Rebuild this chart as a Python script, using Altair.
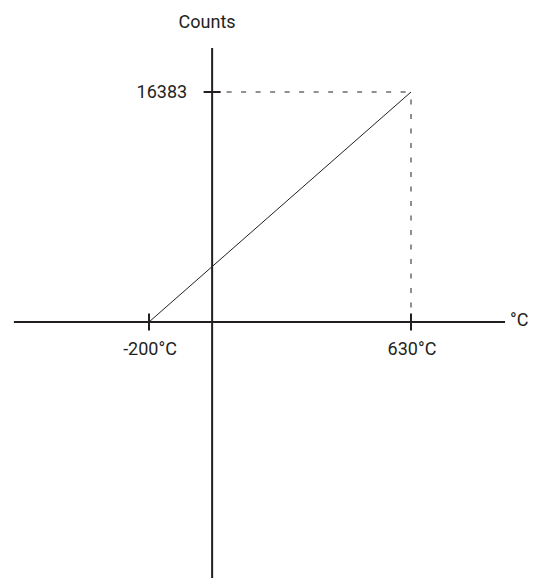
import altair as alt
import pandas as pd

# Data
x_points = [-200, 630]          # °C
y_points = [0, 16383]           # counts
x_axis_extent = [-628, 928]     # drawn horizontal axis extent (°C)
y_axis_extent = [-18650, 19517] # drawn vertical axis extent (counts)
x_tick_values = [-200, 630]
x_tick_labels = ["-200°C", "630°C"]
y_tick_values = [16383]
y_tick_labels = ["16383"]
x_unit = "°C"
y_title = "Counts"

FONT = "Roboto"
FS = 18
INK = "#231f20"

W, H = 522, 570
# page px -> data: x=-200 at plot 141, x=630 at plot 403; y=0 at plot 314, y=16383 at plot 84
kx = 830 / 262
ky = 16383 / 230
xs = alt.Scale(domain=[-200 - 141 * kx, 630 + (W - 403) * kx], nice=False, zero=False)
ys = alt.Scale(domain=[-(H - 314) * ky, 16383 + 84 * ky], nice=False, zero=False)

def X(field="x"):
    return alt.X(f"{field}:Q", scale=xs, axis=None)

def Y(field="y"):
    return alt.Y(f"{field}:Q", scale=ys, axis=None)

# axis lines
xaxis_df = pd.DataFrame({"x": [x_axis_extent[0]], "x2": [x_axis_extent[1]], "y": [0]})
yaxis_df = pd.DataFrame({"x": [0], "y": [y_axis_extent[0]], "y2": [y_axis_extent[1]]})

xaxis = alt.Chart(xaxis_df).mark_rule(color=INK, strokeWidth=2).encode(
    x=X(), x2="x2:Q", y=Y())
yaxis = alt.Chart(yaxis_df).mark_rule(color=INK, strokeWidth=2).encode(
    x=X(), y=Y(), y2="y2:Q")

# ticks
xt_df = pd.DataFrame({"x": x_tick_values, "y": [0] * len(x_tick_values), "label": x_tick_labels})
yt_df = pd.DataFrame({"x": [0] * len(y_tick_values), "y": y_tick_values, "label": y_tick_labels})

xticks = alt.Chart(xt_df).mark_tick(color=INK, thickness=2, size=17, orient="vertical", opacity=1).encode(
    x=X(), y=Y())
yticks = alt.Chart(yt_df).mark_tick(color=INK, thickness=2, size=17, orient="horizontal", opacity=1).encode(
    x=X(), y=Y())

xlabels = alt.Chart(xt_df).mark_text(font=FONT, fontSize=FS, color=INK, align="center",
                                     baseline="alphabetic", dy=33, dx=1).encode(
    x=X(), y=Y(), text="label:N")
ylabels = alt.Chart(yt_df).mark_text(font=FONT, fontSize=FS, color=INK, align="right",
                                     baseline="alphabetic", dx=-25, dy=6).encode(
    x=X(), y=Y(), text="label:N")

unit_df = pd.DataFrame({"x": [x_axis_extent[1]], "y": [0], "label": [x_unit]})
unit = alt.Chart(unit_df).mark_text(font=FONT, fontSize=FS, color=INK, align="left",
                                    baseline="alphabetic", dx=5, dy=4).encode(
    x=X(), y=Y(), text="label:N")

title_df = pd.DataFrame({"x": [0], "y": [y_axis_extent[1]], "label": [y_title]})
title = alt.Chart(title_df).mark_text(font=FONT, fontSize=FS, color=INK, align="center",
                                      baseline="alphabetic", dx=-5, dy=-20).encode(
    x=X(), y=Y(), text="label:N")

# main line
line_df = pd.DataFrame({"x": x_points, "y": y_points})
line = alt.Chart(line_df).mark_line(color=INK, strokeWidth=1).encode(x=X(), y=Y())

# dashed guides
h_df = pd.DataFrame({"x": [0], "x2": [x_points[1]], "y": [y_points[1]]})
v_df = pd.DataFrame({"x": [x_points[1]], "y": [0], "y2": [y_points[1]]})
hdash = alt.Chart(h_df).mark_rule(color=INK, strokeWidth=1, strokeDash=[5, 9.5]).encode(
    x=X(), x2="x2:Q", y=Y())
vdash = alt.Chart(v_df).mark_rule(color=INK, strokeWidth=1, strokeDash=[5, 9.5]).encode(
    x=X(), y=Y(), y2="y2:Q")

chart = alt.layer(hdash, vdash, line, xaxis, yaxis, xticks, yticks,
                  xlabels, ylabels, unit, title).properties(
    width=W, height=H, padding=0,
    autosize=alt.AutoSizeParams(type="none"),
    background="white",
).configure_view(stroke=None)

chart.save("out.html", embed_options={"renderer": "svg", "actions": False})
